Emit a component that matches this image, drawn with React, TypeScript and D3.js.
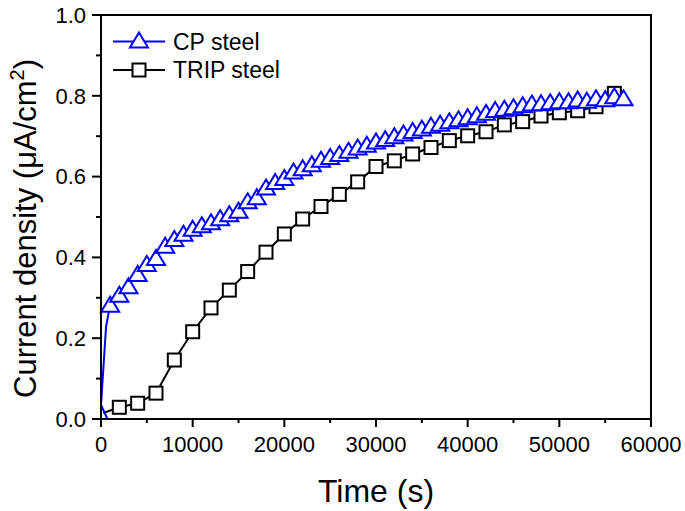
import React from "react";
import * as d3 from "d3";

// CP steel: line-only leading points, then marked points
const cpLeadTimes = [700, 0, 550];
const cpLeadValues = [0.0, 0.035, 0.228];
const cpTimes = [1000, 2000, 3000, 4000, 5000, 6000, 7000, 8000, 9000, 10000,
  11000, 12000, 13000, 14000, 15000, 16000, 17000, 18000, 19000, 20000,
  21000, 22000, 23000, 24000, 25000, 26000, 27000, 28000, 29000, 30000,
  31000, 32000, 33000, 34000, 35000, 36000, 37000, 38000, 39000, 40000,
  41000, 42000, 43000, 44000, 45000, 46000, 47000, 48000, 49000, 50000,
  51000, 52000, 53000, 54000, 55000, 56000, 57000];
const cpValues = [0.284, 0.309, 0.330, 0.360, 0.385, 0.400, 0.430, 0.447, 0.460, 0.472,
  0.481, 0.488, 0.498, 0.508, 0.517, 0.540, 0.550, 0.574, 0.588, 0.598,
  0.614, 0.622, 0.632, 0.643, 0.650, 0.657, 0.665, 0.673, 0.680, 0.688,
  0.694, 0.701, 0.708, 0.714, 0.720, 0.727, 0.732, 0.738, 0.743, 0.748,
  0.753, 0.759, 0.766, 0.769, 0.773, 0.778, 0.782, 0.783, 0.785, 0.788,
  0.788, 0.792, 0.789, 0.795, 0.793, 0.800, 0.795];

// TRIP steel
const tripLeadTimes = [250];
const tripLeadValues = [0.015];
const tripTimes = [2000, 4000, 6000, 8000, 10000, 12000, 14000, 16000, 18000, 20000,
  22000, 24000, 26000, 28000, 30000, 32000, 34000, 36000, 38000, 40000,
  42000, 44000, 46000, 48000, 50000, 52000, 54000, 56000];
const tripValues = [0.029, 0.039, 0.064, 0.146, 0.216, 0.275, 0.319, 0.365, 0.413, 0.458,
  0.495, 0.526, 0.556, 0.587, 0.625, 0.639, 0.656, 0.672, 0.689, 0.701,
  0.711, 0.728, 0.736, 0.750, 0.758, 0.763, 0.773, 0.806];

const xMajorTicks = [0, 10000, 20000, 30000, 40000, 50000, 60000];
const xMinorTicks = [5000, 15000, 25000, 35000, 45000, 55000];
const yMajorTicks = [0, 0.2, 0.4, 0.6, 0.8, 1.0];
const yMinorTicks = [0.1, 0.3, 0.5, 0.7, 0.9];

const seriesNames = ["CP steel", "TRIP steel"];

const W = 685, H = 511;
const L = 101, R = 651, T = 15, B = 419;
const FONT = "'Liberation Sans', Arial, sans-serif";
const BLUE = "#0000ff";

const tri = (cx: number, cy: number) =>
  `M${cx},${cy - 7.5}L${cx + 9},${cy + 7.5}L${cx - 9},${cy + 7.5}Z`;

export default function App() {
  const x = d3.scaleLinear().domain([0, 60000]).range([L, R]);
  const y = d3.scaleLinear().domain([0, 1]).range([B, T]);
  const line = d3.line<[number, number]>().x(d => x(d[0])).y(d => y(d[1]));

  const cpPts: [number, number][] = cpTimes.map((t, i) => [t, cpValues[i]]);
  const cpLine: [number, number][] = [
    ...cpLeadTimes.map((t, i) => [t, cpLeadValues[i]] as [number, number]),
    ...cpPts,
  ];
  const tripPts: [number, number][] = tripTimes.map((t, i) => [t, tripValues[i]]);
  const tripLine: [number, number][] = [
    ...tripLeadTimes.map((t, i) => [t, tripLeadValues[i]] as [number, number]),
    ...tripPts,
  ];

  return (
    <svg width={W} height={H} style={{ position: "absolute", left: 0, top: 0, background: "#fff" }}
      fontFamily={FONT}>
      <rect x={0} y={0} width={W} height={H} fill="#fff" />
      {/* TRIP series */}
      <path d={line(tripLine) || ""} fill="none" stroke="#000" strokeWidth={2} />
      {tripPts.map((p, i) => (
        <rect key={"s" + i} x={x(p[0]) - 6.5} y={y(p[1]) - 6.5} width={13} height={13}
          fill="#fff" stroke="#000" strokeWidth={2} />
      ))}
      {/* CP series */}
      <path d={line(cpLine) || ""} fill="none" stroke={BLUE} strokeWidth={2} />
      {cpPts.map((p, i) => (
        <path key={"t" + i} d={tri(x(p[0]), y(p[1]))} fill="#fff" stroke={BLUE} strokeWidth={2}
          strokeLinejoin="miter" />
      ))}

      {/* frame */}
      <rect x={L} y={T} width={R - L} height={B - T} fill="none" stroke="#000" strokeWidth={2} />

      {/* x ticks */}
      {xMajorTicks.map(t => (
        <g key={"xm" + t}>
          <line x1={x(t)} x2={x(t)} y1={B} y2={B + 8} stroke="#000" strokeWidth={2} />
          <text x={x(t)} y={452} fontSize={22} textAnchor="middle">{t}</text>
        </g>
      ))}
      {xMinorTicks.map(t => (
        <line key={"xn" + t} x1={x(t)} x2={x(t)} y1={B} y2={B + 4} stroke="#000" strokeWidth={2} />
      ))}
      {/* y ticks */}
      {yMajorTicks.map(t => (
        <g key={"ym" + t}>
          <line x1={L - 9} x2={L} y1={y(t)} y2={y(t)} stroke="#000" strokeWidth={2} />
          <text x={86} y={y(t) + 7.8} fontSize={22} textAnchor="end">{t.toFixed(1)}</text>
        </g>
      ))}
      {yMinorTicks.map(t => (
        <line key={"yn" + t} x1={L - 5} x2={L} y1={y(t)} y2={y(t)} stroke="#000" strokeWidth={2} />
      ))}

      {/* axis titles */}
      <text x={376} y={502} fontSize={32} textAnchor="middle">Time (s)</text>
      <text transform="translate(36,398) rotate(-90)" fontSize={31} textAnchor="start">
        Current density (μA/cm<tspan dy={-12} fontSize={20}>2</tspan><tspan dy={12}>)</tspan>
      </text>

      {/* legend */}
      <line x1={113} x2={165} y1={41.5} y2={41.5} stroke={BLUE} strokeWidth={2} />
      <path d={tri(139, 40)} fill="#fff" stroke={BLUE} strokeWidth={2} />
      <text x={173} y={49.5} fontSize={23}>{seriesNames[0]}</text>
      <line x1={113} x2={165} y1={70} y2={70} stroke="#000" strokeWidth={2} />
      <rect x={139 - 6.5} y={70 - 6.5} width={13} height={13} fill="#fff" stroke="#000" strokeWidth={2} />
      <text x={173} y={78} fontSize={23}>{seriesNames[1]}</text>
    </svg>
  );
}
